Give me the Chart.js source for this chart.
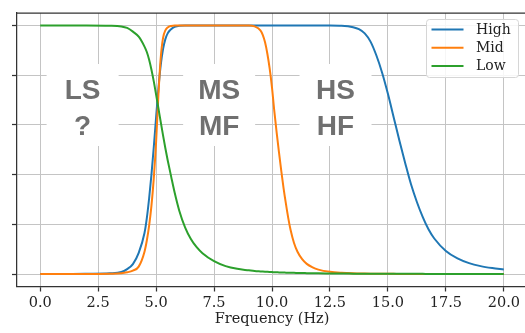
<!DOCTYPE html>
<html>
<head>
<meta charset="utf-8">
<script src="https://cdn.jsdelivr.net/npm/chart.js@4.4.1/dist/chart.umd.min.js"></script>
<style>
    html, body { margin: 0; padding: 0; background: #fff; overflow: hidden; }
    #wrap { width: 528px; height: 333px; }
</style>
</head>
<body>
<div id="wrap"><canvas id="chart" width="528" height="333"></canvas></div>
<script>
// frequency samples (Hz), denser where the curves move
const freq = [
    0, 1, 2, 3, 3.5, 3.75, 4, 4.25,
    4.5, 4.6, 4.7, 4.8, 4.9, 5.0, 5.1, 5.2, 5.3, 5.4, 5.5, 5.65, 5.8,
    6.0, 6.25, 6.5, 6.75, 7.0, 7.5, 8, 8.5, 9,
    9.25, 9.5, 9.6, 9.7, 9.8, 9.9, 10.0, 10.1, 10.2, 10.3, 10.4, 10.5, 10.6, 10.7, 10.8,
    10.95, 11.1, 11.3, 11.5, 11.75, 12, 12.5, 13,
    13.5, 13.75, 14, 14.25, 14.5, 14.75, 15, 15.25, 15.5, 15.75,
    16, 16.25, 16.5, 16.75, 17, 17.5, 18, 18.5, 19, 19.5, 20
];

const highVals = [
    0, 0, 0.001, 0.003, 0.008, 0.02, 0.04, 0.085,
    0.165, 0.225, 0.305, 0.40, 0.51, 0.63, 0.745, 0.84, 0.905, 0.945, 0.968, 0.985, 0.994,
    0.999, 1, 1, 1, 1, 1, 1, 1, 1,
    1, 1, 1, 1, 1, 1, 1, 1, 1, 1, 1, 1, 1, 1, 1,
    1, 1, 1, 1, 1, 1, 1, 0.999,
    0.993, 0.985, 0.968, 0.935, 0.88, 0.81, 0.725, 0.63, 0.535, 0.445,
    0.36, 0.29, 0.23, 0.18, 0.143, 0.093, 0.063, 0.044, 0.032, 0.024, 0.018
];

const midVals = [
    0, 0, 0, 0.001, 0.003, 0.007, 0.014, 0.03,
    0.09, 0.135, 0.195, 0.275, 0.385, 0.53, 0.72, 0.87, 0.95, 0.98, 0.992, 0.998, 1,
    1, 1, 1, 1, 1, 1, 1, 1, 1,
    0.996, 0.98, 0.962, 0.932, 0.886, 0.826, 0.75, 0.655, 0.57, 0.49, 0.415, 0.345, 0.283, 0.226, 0.178,
    0.125, 0.09, 0.06, 0.041, 0.027, 0.018, 0.009, 0.005,
    0.003, 0.0025, 0.002, 0.0015, 0.001, 0.001, 0.001, 0.001, 0.0005, 0.0005,
    0, 0, 0, 0, 0, 0, 0, 0, 0, 0, 0
];

const lowVals = [
    1, 1, 1, 0.999, 0.996, 0.99, 0.975, 0.955,
    0.915, 0.893, 0.862, 0.822, 0.775, 0.722, 0.667, 0.612, 0.558, 0.506, 0.458, 0.392, 0.328,
    0.255, 0.188, 0.141, 0.108, 0.084, 0.052, 0.032, 0.021, 0.015,
    0.012, 0.0105, 0.01, 0.0095, 0.009, 0.0085, 0.008, 0.0075, 0.007, 0.0068, 0.0065, 0.006, 0.0058, 0.0055, 0.0052,
    0.005, 0.0045, 0.004, 0.0037, 0.0033, 0.003, 0.0025, 0.002,
    0.0017, 0.0015, 0.0014, 0.0013, 0.0012, 0.0011, 0.001, 0.001, 0.001, 0.001,
    0.001, 0.001, 0.001, 0.0005, 0.0005, 0, 0, 0, 0, 0, 0
];

const seriesNames = ["High", "Mid", "Low"];
const xTicks = [0, 2.5, 5, 7.5, 10, 12.5, 15, 17.5, 20];
const yTicks = [0, 0.2, 0.4, 0.6, 0.8, 1.0];
const zoneTop = ["LS", "MS", "HS"];
const zoneBottom = ["?", "MF", "HF"];

const colors = ["#1f77b4", "#ff7f0e", "#2ca02c"];
const spineColor = "#333333";

function toPoints(vals) {
    return freq.map((f, i) => ({ x: f, y: vals[i] }));
}

// white boxes with the big grey zone labels
const zoneLabels = {
    id: "zoneLabels",
    beforeDatasetsDraw(chart, args, opts) {
        const ctx = chart.ctx;
        const xs = chart.scales.x;
        const ys = chart.scales.y;
        ctx.save();
        opts.x.forEach((zx, i) => {
            const px = xs.getPixelForValue(zx);
            const py = ys.getPixelForValue(opts.y);
            ctx.fillStyle = "#ffffff";
            ctx.fillRect(px - 36, py - 43, 72, 82);
            ctx.fillStyle = "#707070";
            ctx.font = "bold 28px 'Liberation Sans', Arial, sans-serif";
            ctx.textAlign = "center";
            ctx.textBaseline = "alphabetic";
            ctx.fillText(zoneTop[i], px, py - 8.4);
            ctx.fillText(zoneBottom[i], px, py + 28.3);
        });
        ctx.restore();
    }
};

// matplotlib-like legend box in the upper right
const legendBox = {
    id: "legendBox",
    afterDatasetsDraw(chart) {
        const ctx = chart.ctx;
        const { right, top } = chart.chartArea;
        const bx = right - 100.5;
        const by = top + 6.5;
        ctx.save();
        ctx.beginPath();
        ctx.roundRect(bx, by, 92, 58, 3);
        ctx.fillStyle = "rgba(255,255,255,0.85)";
        ctx.fill();
        ctx.strokeStyle = "#d6d6d6";
        ctx.lineWidth = 1;
        ctx.stroke();
        chart.data.datasets.forEach((ds, i) => {
            const ry = by + 10 + i * 18.2;
            ctx.beginPath();
            ctx.moveTo(bx + 5, ry);
            ctx.lineTo(bx + 37, ry);
            ctx.strokeStyle = ds.borderColor;
            ctx.lineWidth = 2;
            ctx.stroke();
            ctx.fillStyle = "#222";
            ctx.font = "14px 'DejaVu Serif', serif";
            ctx.textAlign = "left";
            ctx.textBaseline = "middle";
            ctx.fillText(ds.label, bx + 49.5, ry + 0.5);
        });
        ctx.restore();
    }
};

// top and right spines
const frame = {
    id: "frame",
    afterDraw(chart) {
        const { left, right, top, bottom } = chart.chartArea;
        const ctx = chart.ctx;
        ctx.save();
        ctx.strokeStyle = spineColor;
        ctx.lineWidth = 1.25;
        ctx.beginPath();
        ctx.moveTo(left, top);
        ctx.lineTo(right, top);
        ctx.lineTo(right, bottom);
        ctx.stroke();
        ctx.restore();
    }
};

Chart.defaults.font.family = "'DejaVu Serif', serif";
Chart.defaults.color = "#222";

new Chart(document.getElementById("chart").getContext("2d"), {
    type: "line",
    data: {
        datasets: [
            { label: seriesNames[0], data: toPoints(highVals), borderColor: colors[0], order: 3 },
            { label: seriesNames[1], data: toPoints(midVals), borderColor: colors[1], order: 2 },
            { label: seriesNames[2], data: toPoints(lowVals), borderColor: colors[2], order: 1 },
        ],
    },
    options: {
        responsive: false,
        animation: false,
        devicePixelRatio: 1,
        layout: { padding: { left: 12, right: 1, top: 13, bottom: 5 } },
        elements: {
            point: { radius: 0 },
            line: { borderWidth: 2, fill: false, cubicInterpolationMode: "monotone" },
        },
        plugins: {
            legend: { display: false },
            tooltip: { enabled: false },
            zoneLabels: { x: [1.83, 7.72, 12.74], y: 0.672 },
        },
        scales: {
            x: {
                type: "linear",
                min: -1,
                max: 21,
                afterBuildTicks: (axis) => { axis.ticks = xTicks.map((v) => ({ value: v })); },
                afterFit: (axis) => { axis.height = 41.5; },
                ticks: {
                    font: { size: 14.5 },
                    color: "#222",
                    padding: 3,
                    maxRotation: 0,
                    callback: (v) => Number(v).toFixed(1),
                },
                grid: { color: "#c4c4c4", lineWidth: 1, tickColor: spineColor, tickLength: 5, tickWidth: 1.25 },
                border: { color: spineColor, width: 1.25 },
                title: { display: true, text: "Frequency (Hz)", font: { size: 14.5 }, color: "#222", padding: 0 },
            },
            y: {
                type: "linear",
                min: -0.05,
                max: 1.05,
                afterBuildTicks: (axis) => { axis.ticks = yTicks.map((v) => ({ value: v })); },
                afterFit: (axis) => { axis.width = 5; },
                ticks: { display: false },
                grid: { color: "#c4c4c4", lineWidth: 1, tickColor: spineColor, tickLength: 5, tickWidth: 1.25 },
                border: { color: spineColor, width: 1.25 },
            },
        },
    },
    plugins: [zoneLabels, legendBox, frame],
});
</script>
</body>
</html>
